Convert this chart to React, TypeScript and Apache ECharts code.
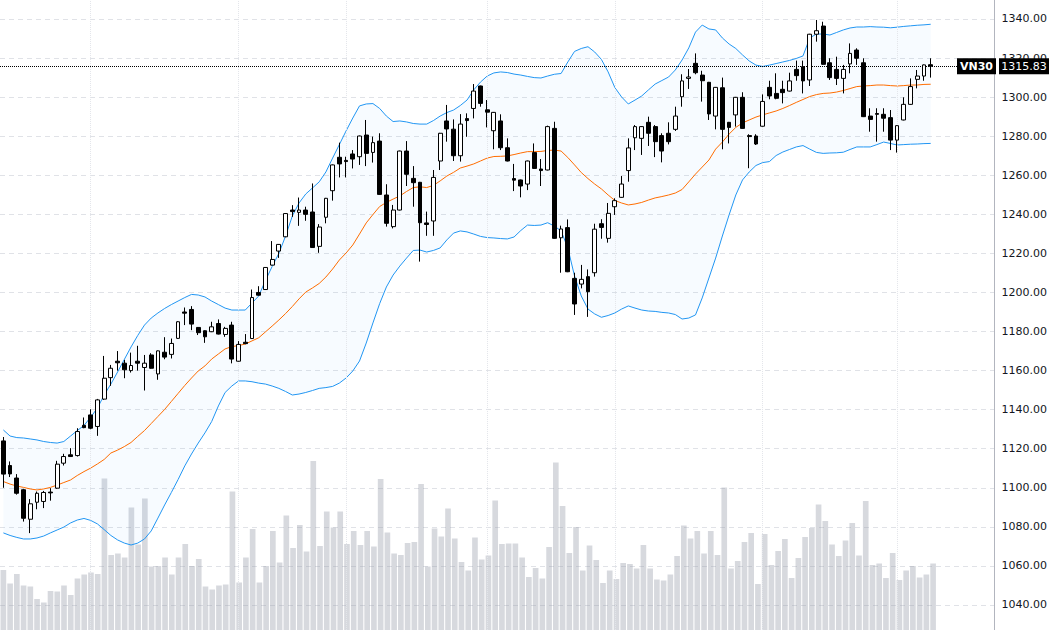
import React, { useEffect, useRef } from 'react';
import * as echarts from 'echarts';

const SYMBOL = 'VN30';
const LAST_PRICE = 1315.83;
const SLOTS = 148;
const monthStarts = [13, 35, 51, 72, 91, 113, 133];

const opens = [
  1124, 1111.4, 1105, 1099, 1083.9, 1092.6, 1093, 1097.8, 1099.8, 1112.6,
  1116.9, 1116.5, 1132, 1137.3, 1131.4, 1145.4, 1156.4, 1164.8, 1163.8, 1160,
  1164.8, 1161.6, 1168, 1158.3, 1169.4, 1168.3, 1176.5, 1190, 1191.3, 1182.1,
  1180.4, 1179.9, 1184.1, 1178.5, 1183.3, 1164.8, 1174.5, 1176.4, 1200, 1201.5,
  1214, 1221.2, 1228.5, 1242.2, 1241, 1242.2, 1241.2, 1223.6, 1238.5, 1252.1,
  1269.2, 1267.6, 1270.9, 1269.5, 1280.6, 1271.7, 1277.5, 1249.9, 1233.7, 1242.2,
  1272.4, 1258.4, 1256.4, 1235.6, 1236.6, 1267.3, 1287.8, 1283.6, 1270, 1289,
  1294.2, 1305.7, 1293.5, 1282.8, 1287.8, 1274.1, 1258.3, 1257.6, 1255.5, 1271.6,
  1263.2, 1262.7, 1284, 1228, 1233.2, 1207.2, 1204.3, 1208.1, 1210.1, 1235.2,
  1227.7, 1243.9, 1248.7, 1262.4, 1279.2, 1278.9, 1287.1, 1284.9, 1280.3, 1281.5,
  1283.5, 1300.2, 1309.6, 1317.3, 1311.3, 1307.6, 1290.3, 1304.8, 1287.1, 1290.9,
  1299.9, 1280.3, 1280.1, 1285.1, 1305, 1301.9, 1304, 1303.1, 1314.2, 1315.6,
  1308.8, 1332.2, 1336.4, 1317.6, 1314.2, 1309.6, 1317, 1324.1, 1317.6, 1290.3,
  1291.6, 1291.2, 1289.5, 1278, 1288.3, 1296.3, 1309.1, 1310.8, 1316.6,
];

const closes = [
  1107, 1107.1, 1097.2, 1084.4, 1091.8, 1097.2, 1097.6, 1097.4, 1112.1, 1116,
  1116, 1128.8, 1130.8, 1130.5, 1145, 1156.1, 1161.2, 1164, 1160.4, 1162.6,
  1163.8, 1163.8, 1161.2, 1170.1, 1166.9, 1173.9, 1185, 1189.4, 1183.8, 1179.4,
  1177.3, 1182.4, 1178.7, 1181.6, 1165.9, 1173.4, 1173.8, 1197.4, 1198.6, 1212.8,
  1216.9, 1224.6, 1240.4, 1241.4, 1242.2, 1240, 1223, 1233.5, 1248.2, 1265.3,
  1265.8, 1267, 1268.3, 1280.1, 1271.2, 1276.7, 1250.2, 1235.4, 1242.2, 1272.4,
  1260.5, 1256.2, 1235.7, 1234.8, 1258.9, 1281.5, 1283.7, 1270, 1286.2, 1288,
  1303.1, 1296.8, 1292.3, 1292.2, 1274.1, 1267.3, 1257.5, 1254.5, 1267.3, 1263.5,
  1262.4, 1284.9, 1227.7, 1232.5, 1210.6, 1194.1, 1206.7, 1200.4, 1232.4, 1233.3,
  1240.5, 1247, 1255.5, 1274, 1284.9, 1284.9, 1281.5, 1277.2, 1272.4, 1277.2,
  1290.3, 1308.3, 1310.3, 1312.5, 1308.4, 1291.4, 1305, 1283.5, 1284.5, 1299.9,
  1284, 1279.8, 1276, 1297.8, 1300.6, 1299.4, 1302.3, 1308.3, 1311, 1308.3,
  1332.2, 1334, 1316.8, 1310, 1309.6, 1314.2, 1322.4, 1319.9, 1290, 1288.6,
  1291.2, 1289.2, 1278, 1285.4, 1296.3, 1305.4, 1310.8, 1316.5, 1315.83,
];

const lows = [
  1100, 1105.5, 1096.5, 1082.7, 1076.8, 1089, 1089.6, 1093.4, 1099.5, 1111.4,
  1115.8, 1116, 1130.5, 1130, 1126.6, 1145, 1152.2, 1160, 1156.1, 1159,
  1160, 1149.8, 1161, 1155.3, 1165.8, 1166.2, 1176.2, 1183.3, 1180.7, 1178.2,
  1174.2, 1179.7, 1178.5, 1177.3, 1163.7, 1164.6, 1173.5, 1176.2, 1198.4, 1201.3,
  1213.8, 1217.7, 1228.3, 1238.7, 1234.1, 1236.7, 1222.8, 1220.3, 1235.4, 1247,
  1258.9, 1258.9, 1263.5, 1265.3, 1264.7, 1266.5, 1250, 1233.7, 1232.8, 1242,
  1254.5, 1243.9, 1215.8, 1229, 1229, 1262.7, 1277.2, 1267.3, 1267, 1279.7,
  1289.1, 1295.1, 1284.5, 1273.3, 1272.9, 1267.1, 1251.9, 1248.7, 1252.4, 1263.3,
  1254.5, 1262.5, 1227.5, 1210.1, 1210.4, 1188.5, 1202.1, 1187.5, 1208.1, 1227.5,
  1225.5, 1239.7, 1248.5, 1256.7, 1272.9, 1270.4, 1275, 1269.3, 1266.6, 1275.8,
  1282.7, 1295.1, 1304.2, 1311.7, 1297.7, 1288.3, 1283.5, 1273.3, 1276.3, 1284.9,
  1283.8, 1263.6, 1275.5, 1284.9, 1298.9, 1298.9, 1296.8, 1302.9, 1308.4, 1301.9,
  1305.7, 1328.4, 1316.6, 1308.8, 1306.2, 1301.9, 1312.2, 1316.5, 1289.8, 1282.3,
  1277.2, 1282.3, 1272.9, 1271.6, 1288.1, 1296.1, 1304.5, 1308.4, 1310,
];

const highs = [
  1126, 1113.5, 1107, 1099.5, 1094.2, 1098.1, 1098.4, 1099.8, 1113.8, 1117.4,
  1120.3, 1130.5, 1136, 1140.2, 1145.5, 1167.5, 1162.9, 1170, 1165.5, 1169.2,
  1172.7, 1168, 1168.9, 1170.3, 1177.1, 1176.4, 1185.3, 1192.3, 1193, 1182.3,
  1180.6, 1185, 1186.2, 1182.4, 1185, 1175.1, 1178.7, 1201.5, 1203.2, 1213,
  1226.3, 1224.8, 1240.6, 1244.7, 1248.6, 1243.9, 1255.8, 1235, 1248.4, 1265.5,
  1276.7, 1269.5, 1272.9, 1280.3, 1288.3, 1279.8, 1281.5, 1255.4, 1244.8, 1272.6,
  1277.5, 1264.7, 1256.6, 1241.4, 1262.7, 1281.7, 1296, 1288.6, 1291.3, 1291.7,
  1306.7, 1305.9, 1298.5, 1292.4, 1291.2, 1278.9, 1265.8, 1257.8, 1267.5, 1276.3,
  1268.3, 1285.4, 1287.4, 1234.2, 1237.4, 1210.1, 1214.1, 1211.8, 1235.2, 1237.5,
  1245.8, 1248.2, 1259.6, 1278.9, 1285.7, 1285.1, 1290, 1285.7, 1281.5, 1287.1,
  1295.1, 1311.7, 1314.4, 1322.4, 1313.5, 1307.8, 1305.2, 1310, 1287.3, 1300.1,
  1302.5, 1281, 1281, 1301.4, 1308.4, 1312.2, 1308.4, 1312.5, 1318.7, 1318.7,
  1332.4, 1339.5, 1338.6, 1319.9, 1320.7, 1316.5, 1327.5, 1325, 1319.9, 1294.3,
  1294.3, 1294.3, 1293.4, 1285.6, 1299.9, 1309.6, 1313.9, 1316.7, 1319.9,
];

const volumes = [
  120, 93, 112, 89, 87, 62, 55, 78, 77, 89,
  70, 103, 111, 115, 112, 303, 150, 153, 145, 245,
  171, 263, 127, 128, 145, 111, 145, 172, 128, 142,
  87, 81, 89, 91, 277, 95, 145, 202, 95, 128,
  198, 135, 229, 164, 210, 157, 338, 168, 237, 205,
  237, 172, 198, 170, 198, 167, 302, 195, 153, 150,
  174, 176, 292, 127, 203, 187, 243, 183, 136, 119,
  185, 141, 149, 259, 172, 173, 173, 145, 106, 124,
  103, 166, 335, 248, 154, 206, 119, 169, 140, 94,
  119, 102, 134, 132, 123, 170, 123, 101, 99, 111,
  148, 209, 183, 198, 153, 198, 150, 285, 123, 138,
  176, 194, 92, 192, 130, 158, 182, 104, 144, 186,
  204, 251, 218, 171, 148, 179, 214, 149, 258, 130,
  133, 104, 154, 100, 119, 128, 105, 111, 133,
];

const upperBand = [
  1129.6, 1126.5, 1125.7, 1125.5, 1125.0, 1124.5, 1123.7, 1123.2, 1122.9, 1123.7,
  1126.5, 1129.3, 1131.9, 1136.2, 1140.8, 1147.5, 1153.1, 1159.3, 1165.7, 1172.1,
  1178.0, 1183.3, 1186.9, 1189.5, 1191.8, 1193.8, 1195.6, 1197.4, 1199.0, 1198.7,
  1197.7, 1195.6, 1193.8, 1192.0, 1191.0, 1191.0, 1191.0, 1194.6, 1198.2, 1206.1,
  1213.3, 1220.0, 1228.9, 1239.1, 1245.8, 1250.4, 1253.5, 1256.6, 1261.7, 1268.8,
  1275.7, 1282.7, 1289.3, 1295.5, 1296.5, 1296.7, 1294.2, 1290.3, 1287.5, 1287.8,
  1287.3, 1286.5, 1286.2, 1286.2, 1288.0, 1290.3, 1292.1, 1293.4, 1295.7, 1298.5,
  1303.7, 1307.7, 1310.8, 1312.4, 1312.9, 1312.6, 1311.8, 1311.3, 1310.6, 1310.0,
  1309.8, 1310.8, 1311.7, 1312.1, 1318.0, 1323.4, 1324.9, 1325.8, 1323.1, 1319.3,
  1312.9, 1304.9, 1300.1, 1296.5, 1298.5, 1300.6, 1303.7, 1306.7, 1308.5, 1310.3,
  1313.9, 1319.0, 1325.2, 1333.3, 1336.9, 1334.9, 1334.4, 1330.3, 1327.2, 1324.9,
  1321.6, 1318.5, 1316.4, 1315.7, 1316.4, 1317.2, 1318.0, 1318.8, 1319.8, 1321.1,
  1330.3, 1332.3, 1332.3, 1331.8, 1333.1, 1334.4, 1335.4, 1335.9, 1335.9, 1336.1,
  1335.9, 1335.8, 1335.5, 1335.8, 1336.2, 1336.5, 1336.8, 1337.0, 1337.3,
];

const middleBand = [
  1103.2, 1101.9, 1100.9, 1100.2, 1099.4, 1098.9, 1099.4, 1100.2, 1101.4, 1102.7,
  1104.0, 1106.3, 1108.3, 1110.1, 1112.2, 1114.5, 1117.8, 1119.3, 1121.1, 1123.2,
  1126.3, 1129.3, 1132.9, 1136.5, 1140.1, 1144.2, 1148.3, 1152.4, 1156.2, 1159.8,
  1162.4, 1165.9, 1168.5, 1171.1, 1172.3, 1172.8, 1173.6, 1175.2, 1176.8, 1179.8,
  1182.8, 1185.9, 1189.2, 1192.8, 1196.7, 1200.2, 1202.3, 1204.6, 1207.9, 1212.0,
  1216.6, 1220.2, 1224.3, 1229.9, 1235.6, 1239.9, 1244.0, 1246.1, 1247.8, 1249.4,
  1251.7, 1253.7, 1254.1, 1253.7, 1254.8, 1257.1, 1259.6, 1261.5, 1263.7, 1264.7,
  1265.8, 1267.3, 1268.8, 1269.6, 1269.7, 1269.9, 1270.6, 1271.4, 1272.1, 1272.1,
  1272.2, 1272.7, 1272.9, 1272.4, 1269.1, 1265.3, 1261.4, 1258.3, 1255.5, 1253.0,
  1249.9, 1247.1, 1245.8, 1244.8, 1245.3, 1246.1, 1247.3, 1248.4, 1249.1, 1249.9,
  1250.9, 1252.7, 1256.6, 1260.6, 1264.2, 1267.8, 1273.4, 1277.0, 1281.1, 1284.5,
  1286.8, 1288.3, 1289.8, 1290.9, 1291.9, 1292.9, 1294.2, 1295.7, 1297.3, 1298.8,
  1300.3, 1301.3, 1301.9, 1302.1, 1302.6, 1303.4, 1304.4, 1305.4, 1305.7, 1305.9,
  1306.2, 1306.2, 1305.9, 1305.7, 1305.9, 1306.2, 1306.2, 1306.5, 1306.6,
];

const lowerBand = [
  1076.9, 1075.6, 1074.6, 1073.8, 1073.8, 1074.3, 1075.3, 1076.9, 1078.4, 1079.9,
  1082.0, 1083.5, 1084.3, 1083.3, 1081.5, 1078.6, 1075.6, 1073.3, 1071.7, 1070.7,
  1071.7, 1073.8, 1077.9, 1084.5, 1091.2, 1097.6, 1104.2, 1111.2, 1117.3, 1122.9,
  1128.1, 1133.9, 1141.9, 1148.8, 1152.1, 1154.7, 1154.7, 1154.3, 1153.6, 1153.1,
  1152.1, 1150.9, 1149.3, 1147.5, 1148.0, 1148.8, 1149.8, 1150.9, 1151.3, 1151.9,
  1153.6, 1156.2, 1159.8, 1164.9, 1174.1, 1184.4, 1194.3, 1202.8, 1208.9, 1213.5,
  1217.6, 1221.5, 1221.7, 1220.7, 1221.5, 1222.8, 1226.9, 1230.4, 1231.5, 1231.0,
  1229.9, 1228.7, 1228.1, 1227.9, 1227.6, 1227.4, 1228.4, 1231.7, 1234.5, 1234.3,
  1234.5, 1235.7, 1234.0, 1231.5, 1222.8, 1208.4, 1198.2, 1191.5, 1189.0, 1187.3,
  1188.2, 1189.5, 1191.5, 1193.1, 1192.0, 1191.0, 1190.5, 1190.3, 1189.8, 1189.5,
  1188.7, 1186.4, 1186.9, 1188.5, 1197.2, 1207.4, 1217.6, 1228.9, 1239.7, 1249.9,
  1257.6, 1261.7, 1265.0, 1266.5, 1267.0, 1270.1, 1271.9, 1273.2, 1274.5, 1275.2,
  1273.4, 1271.7, 1271.2, 1271.4, 1271.5, 1271.8, 1273.2, 1274.5, 1274.5, 1274.5,
  1275.7, 1277.0, 1276.3, 1275.5, 1275.7, 1275.9, 1276.0, 1276.2, 1276.3,
];

const FONT = 'DejaVu Sans';

// The chart canvas is taller than the page so that the price scale's
// top (1360) and bottom (1020) ticks fall just outside the visible window.
const OFFSET_TOP = 25;
const CANVAS_H = 680;

export default function App() {
  const ref = useRef<HTMLDivElement>(null);

  useEffect(() => {
    if (!ref.current) return;
    const chart = echarts.init(ref.current, null, { renderer: 'svg' });
    const cats = Array.from({ length: SLOTS }, (_, i) => String(i));
    const candles = opens.map((o, i) => [o, closes[i], lows[i], highs[i]]);
    const bandSpan = upperBand.map((u, i) => +(u - lowerBand[i]).toFixed(2));
    const gridL = -3.94;
    const gridR = 52.9;

    const monthLines = monthStarts.map((idx) => ({
      xAxis: cats[idx],
      lineStyle: { type: 'dotted', color: '#e3e5ea', width: 1 },
    }));

    chart.setOption({
      animation: false,
      backgroundColor: '#ffffff',
      grid: [
        { left: gridL, right: gridR, top: OFFSET_TOP - 20.07, bottom: CANVAS_H - (OFFSET_TOP + 644.06) },
        { left: gridL, right: gridR, top: OFFSET_TOP, bottom: CANVAS_H - (OFFSET_TOP + 630) },
      ],
      xAxis: [
        {
          type: 'category',
          gridIndex: 0,
          data: cats,
          boundaryGap: true,
          axisLine: { show: false },
          axisTick: { show: false },
          axisLabel: { show: false },
          splitLine: { show: false },
        },
        {
          type: 'category',
          gridIndex: 1,
          data: cats,
          boundaryGap: true,
          show: false,
        },
      ],
      yAxis: [
        {
          type: 'value',
          gridIndex: 0,
          position: 'right',
          min: 1020,
          max: 1360,
          interval: 20,
          axisLine: { show: true, lineStyle: { color: '#b2b5be', width: 1 } },
          axisTick: { show: false },
          axisLabel: {
            color: '#131722',
            fontFamily: FONT,
            fontSize: 11,
            margin: 7,
            showMinLabel: false,
            showMaxLabel: false,
            formatter: (v: number) => v.toFixed(2),
          },
          splitLine: {
            show: true,
            lineStyle: { type: [5, 4], color: '#e0e2e7', width: 1 },
          },
        },
        {
          type: 'value',
          gridIndex: 1,
          min: 0,
          max: 1260,
          show: false,
          splitLine: { show: false },
        },
      ],
      series: [
        {
          type: 'bar',
          name: 'Volume',
          xAxisIndex: 1,
          yAxisIndex: 1,
          data: volumes,
          barWidth: '84%',
          itemStyle: { color: 'rgba(150,155,168,0.38)' },
          silent: true,
          z: 1,
        },
        {
          type: 'line',
          name: 'bbBase',
          data: lowerBand,
          stack: 'bb',
          symbol: 'none',
          lineStyle: { opacity: 0 },
          silent: true,
          z: 2,
        },
        {
          type: 'line',
          name: 'bbFill',
          data: bandSpan,
          stack: 'bb',
          symbol: 'none',
          lineStyle: { opacity: 0 },
          areaStyle: { color: 'rgba(33,150,243,0.05)' },
          silent: true,
          z: 2,
        },
        {
          type: 'line',
          name: 'Upper',
          data: upperBand,
          symbol: 'none',
          lineStyle: { color: '#2196F3', width: 1 },
          silent: true,
          z: 3,
        },
        {
          type: 'line',
          name: 'Lower',
          data: lowerBand,
          symbol: 'none',
          lineStyle: { color: '#2196F3', width: 1 },
          silent: true,
          z: 3,
        },
        {
          type: 'line',
          name: 'Basis',
          data: middleBand,
          symbol: 'none',
          lineStyle: { color: '#FF6D00', width: 1 },
          silent: true,
          z: 3,
        },
        {
          type: 'candlestick',
          name: SYMBOL,
          data: candles,
          barWidth: '64%',
          itemStyle: {
            color: '#ffffff',
            color0: '#000000',
            borderColor: '#000000',
            borderColor0: '#000000',
            borderWidth: 1,
          },
          z: 5,
          markLine: {
            silent: true,
            symbol: 'none',
            label: { show: false },
            animation: false,
            data: [
              ...monthLines,
              {
                yAxis: LAST_PRICE,
                lineStyle: { type: 'dotted', color: '#000000', width: 1 },
              },
            ],
          },
        },
      ],
    });

    const yPix = chart.convertToPixel({ yAxisIndex: 0 }, LAST_PRICE) as number;
    chart.setOption({
      graphic: [
        {
          type: 'rect',
          z: 100,
          shape: { x: 957, y: yPix - 8, width: 39, height: 16 },
          style: { fill: '#000000' },
        },
        {
          type: 'text',
          z: 101,
          x: 976.5,
          y: yPix,
          style: {
            text: SYMBOL,
            fill: '#ffffff',
            fontFamily: FONT,
            fontSize: 11,
            fontWeight: 'bold',
            align: 'center',
            textAlign: 'center',
            verticalAlign: 'middle',
            textVerticalAlign: 'middle',
          },
        },
        {
          type: 'rect',
          z: 100,
          shape: { x: 999, y: yPix - 8, width: 50, height: 16 },
          style: { fill: '#000000' },
        },
        {
          type: 'text',
          z: 101,
          x: 1024,
          y: yPix,
          style: {
            text: LAST_PRICE.toFixed(2),
            fill: '#ffffff',
            fontFamily: FONT,
            fontSize: 11,
            align: 'center',
            textAlign: 'center',
            verticalAlign: 'middle',
            textVerticalAlign: 'middle',
          },
        },
      ],
    });

    return () => {
      chart.dispose();
    };
  }, []);

  return (
    <div
      ref={ref}
      style={{
        position: 'fixed',
        left: 0,
        top: -OFFSET_TOP,
        width: 1050,
        height: CANVAS_H,
        background: '#fff',
      }}
    />
  );
}
